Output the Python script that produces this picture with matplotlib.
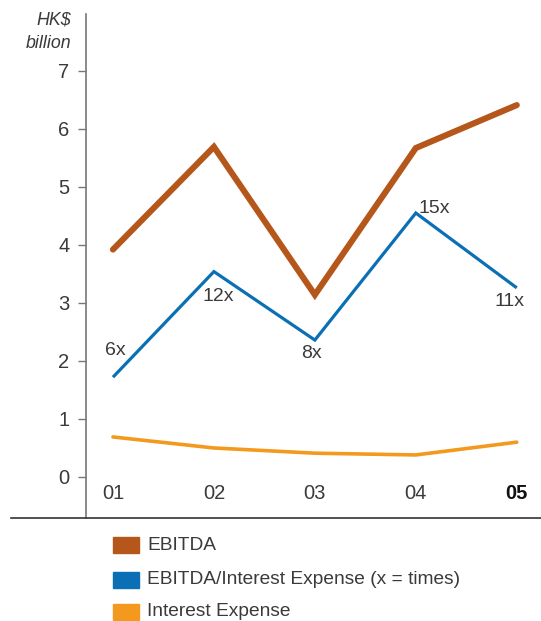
import matplotlib
matplotlib.use("Agg")
import matplotlib.pyplot as plt
from matplotlib.lines import Line2D
from matplotlib.patches import Rectangle

plt.rcParams["font.family"] = ["Liberation Sans", "DejaVu Sans"]

years = ["01", "02", "03", "04", "05"]
ebitda = [3.92, 5.69, 3.14, 5.67, 6.41]
ebitda_cover = [1.72, 3.54, 2.36, 4.55, 3.26]
cover_times = [6, 12, 8, 15, 11]
interest = [0.69, 0.50, 0.41, 0.38, 0.60]
yticks = [0, 1, 2, 3, 4, 5, 6, 7]

TEXT = "#3a3a3a"
C_EBITDA = "#B5571A"
C_COVER = "#0A6FB4"
C_INTEREST = "#F39A1E"

fig = plt.figure(figsize=(5.41, 6.21), dpi=100)
ax = fig.add_axes([86 / 541, 1 - 518 / 621, 1 - 86 / 541, (518 - 14) / 621])

x = list(range(len(years)))
ax.plot(x, interest, color=C_INTEREST, lw=2.6, solid_capstyle="round", solid_joinstyle="miter")
ax.plot(x, ebitda_cover, color=C_COVER, lw=2.3, solid_capstyle="butt", solid_joinstyle="miter")
ax.plot(x, ebitda, color=C_EBITDA, lw=4.4, solid_capstyle="round", solid_joinstyle="miter")

# coverage multiples next to the blue line (offsets in pixels)
offsets = [(2, 27), (4, -25), (-3, -13), (18, 5), (-7, -14)]
for xi, yi, t, (dx, dy) in zip(x, ebitda_cover, cover_times, offsets):
    ax.annotate(f"{t}x", (xi, yi), xytext=(dx, dy), textcoords="offset pixels",
                ha="center", va="center", fontsize=14, color=TEXT)

ax.set_xlim(-0.267, 4.24)
ax.set_ylim(-0.707, 7.98)
ax.set_yticks(yticks)
ax.set_yticklabels([str(v) for v in yticks], fontsize=14.5, color=TEXT)
ax.tick_params(axis="y", length=6, width=1, color="#777777", pad=6)
ax.set_xticks([])

# year labels sit inside the plot, under the zero line
for xi, lab in zip(x, years):
    ax.text(xi, -0.28, lab, ha="center", va="center", fontsize=14.5,
            color="#111111" if lab == "05" else TEXT,
            fontweight="bold" if lab == "05" else "normal")

for side in ("top", "right", "bottom"):
    ax.spines[side].set_visible(False)
ax.spines["left"].set_color("#777777")
ax.spines["left"].set_linewidth(1.2)

fig.text(71 / 541, 1 - 20 / 621, "HK$", ha="right", va="center", fontsize=12.8,
         style="italic", color=TEXT)
fig.text(71 / 541, 1 - 43 / 621, "billion", ha="right", va="center", fontsize=12.8,
         style="italic", color=TEXT)

# baseline running under the whole chart
fig.add_artist(Line2D([11 / 541, 1], [1 - 518 / 621] * 2, color="#333333", lw=1.2))

legend_items = [("EBITDA", C_EBITDA, 545),
                ("EBITDA/Interest Expense (x = times)", C_COVER, 580),
                ("Interest Expense", C_INTEREST, 612)]
for label, col, yc in legend_items:
    fig.add_artist(Rectangle((113 / 541, 1 - (yc + 8) / 621), 26 / 541, 16 / 621,
                             color=col, transform=fig.transFigure))
    fig.text(147 / 541, 1 - yc / 621, label, ha="left", va="center",
             fontsize=13.75, color=TEXT)

fig.savefig("out.png", dpi=100)
